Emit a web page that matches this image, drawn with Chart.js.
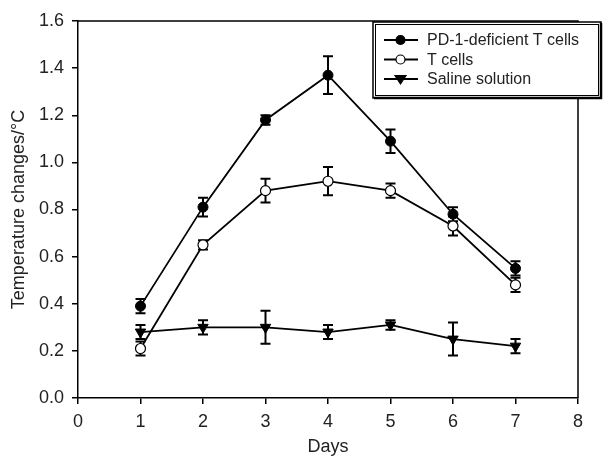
<!DOCTYPE html>
<html>
<head>
<meta charset="utf-8">
<script src="https://cdn.jsdelivr.net/npm/chart.js@4/dist/chart.umd.min.js"></script>
<style>
  body { margin: 0; background: #fff; }
  #tempChart { display: block; }
</style>
</head>
<body>
<canvas id="tempChart" width="610" height="458"></canvas>
<script>
const days = [1, 2, 3, 4, 5, 6, 7]
const seriesNames = ['PD-1-deficient T cells', 'T cells', 'Saline solution']
const pd1Values = [0.39, 0.81, 1.18, 1.37, 1.09, 0.78, 0.55]
const pd1Errors = [0.03, 0.04, 0.02, 0.08, 0.05, 0.03, 0.03]
const tcellValues = [0.21, 0.65, 0.88, 0.92, 0.88, 0.73, 0.48]
const tcellErrors = [0.03, 0.02, 0.05, 0.06, 0.03, 0.04, 0.03]
const salineValues = [0.28, 0.30, 0.30, 0.28, 0.31, 0.25, 0.22]
const salineErrors = [0.03, 0.03, 0.07, 0.03, 0.02, 0.07, 0.03]
const yTicks = [0.0, 0.2, 0.4, 0.6, 0.8, 1.0, 1.2, 1.4, 1.6]
const xTicks = [0, 1, 2, 3, 4, 5, 6, 7, 8]

const errorSets = [pd1Errors, tcellErrors, salineErrors]
const fontFamily = '"Liberation Sans", Arial, Helvetica, sans-serif'

function toPoints(values) {
    return values.map((v, i) => ({ x: days[i], y: v }))
}

// error bars drawn under the markers
const errorBars = {
    id: 'errorBars',
    beforeDatasetsDraw(chart) {
        const ctx = chart.ctx
        const xs = chart.scales.x
        const ys = chart.scales.y
        ctx.save()
        ctx.strokeStyle = '#000'
        ctx.lineWidth = 2
        chart.data.datasets.forEach((ds, d) => {
            ds.data.forEach((p, i) => {
                const err = errorSets[d][i]
                const px = xs.getPixelForValue(p.x)
                const top = ys.getPixelForValue(p.y + err)
                const bot = ys.getPixelForValue(p.y - err)
                ctx.beginPath()
                ctx.moveTo(px, top)
                ctx.lineTo(px, bot)
                ctx.moveTo(px - 5, top)
                ctx.lineTo(px + 5, top)
                ctx.moveTo(px - 5, bot)
                ctx.lineTo(px + 5, bot)
                ctx.stroke()
            })
        })
        ctx.restore()
    }
}

// frame round the plot and the boxed legend
const frameAndLegend = {
    id: 'frameAndLegend',
    afterDraw(chart) {
        const ctx = chart.ctx
        const a = chart.chartArea
        ctx.save()
        ctx.strokeStyle = '#000'
        ctx.lineWidth = 1.5
        ctx.beginPath()
        ctx.moveTo(a.left, a.top)
        ctx.lineTo(a.right, a.top)
        ctx.lineTo(a.right, a.bottom)
        ctx.stroke()

        const lx = a.right - 205
        const ly = a.top + 1
        const lw = 228
        const lh = 76
        ctx.fillStyle = '#fff'
        ctx.fillRect(lx, ly, lw, lh)
        ctx.lineWidth = 1.5
        ctx.strokeRect(lx, ly, lw, lh)
        ctx.lineWidth = 1
        ctx.strokeRect(lx + 2.5, ly + 2.5, lw - 5, lh - 5)
        ctx.lineWidth = 2.5
        ctx.beginPath()
        ctx.moveTo(lx + lw, ly + 1)
        ctx.lineTo(lx + lw, ly + lh)
        ctx.lineTo(lx + 1, ly + lh)
        ctx.stroke()

        ctx.font = '16px ' + fontFamily
        ctx.textBaseline = 'middle'
        ctx.fillStyle = '#222'
        chart.data.datasets.forEach((ds, d) => {
            const rowY = ly + 18 + d * 19.5
            ctx.strokeStyle = '#000'
            ctx.lineWidth = 2
            ctx.beginPath()
            ctx.moveTo(lx + 11, rowY)
            ctx.lineTo(lx + 45, rowY)
            ctx.stroke()
            ctx.lineWidth = 1.2
            ctx.fillStyle = ds.pointBackgroundColor
            ctx.strokeStyle = '#000'
            if (ds.pointStyle === 'triangle') {
                ctx.beginPath()
                ctx.moveTo(lx + 22, rowY - 3.5)
                ctx.lineTo(lx + 33, rowY - 3.5)
                ctx.lineTo(lx + 27.5, rowY + 5)
                ctx.closePath()
                ctx.fill()
                ctx.stroke()
            } else {
                ctx.beginPath()
                ctx.arc(lx + 27.5, rowY, 4.5, 0, Math.PI * 2)
                ctx.fill()
                ctx.stroke()
            }
            ctx.fillStyle = '#222'
            ctx.fillText(ds.label, lx + 54, rowY + 1)
        })
        ctx.restore()
    }
}

const ctx = document.getElementById('tempChart').getContext('2d')
new Chart(ctx, {
    type: 'line',
    data: {
        datasets: [
            {
                label: seriesNames[0],
                data: toPoints(pd1Values),
                borderColor: '#000',
                borderWidth: 1.8,
                pointStyle: 'circle',
                pointRadius: 5,
                pointBackgroundColor: '#000',
                pointBorderColor: '#000',
                pointBorderWidth: 1
            },
            {
                label: seriesNames[1],
                data: toPoints(tcellValues),
                borderColor: '#000',
                borderWidth: 1.8,
                pointStyle: 'circle',
                pointRadius: 5,
                pointBackgroundColor: '#fff',
                pointBorderColor: '#000',
                pointBorderWidth: 1.2
            },
            {
                label: seriesNames[2],
                data: toPoints(salineValues),
                borderColor: '#000',
                borderWidth: 1.8,
                pointStyle: 'triangle',
                pointRotation: 180,
                pointRadius: 6,
                pointBackgroundColor: '#000',
                pointBorderColor: '#000',
                pointBorderWidth: 1
            }
        ]
    },
    options: {
        responsive: false,
        animation: false,
        layout: { padding: { left: 0, right: 32, top: 21, bottom: 0 } },
        plugins: {
            legend: { display: false },
            tooltip: { enabled: false }
        },
        scales: {
            x: {
                type: 'linear',
                min: 0,
                max: 8,
                afterBuildTicks: axis => { axis.ticks = xTicks.map(v => ({ value: v })) },
                afterFit: axis => { axis.height = 60 },
                ticks: {
                    color: '#222',
                    padding: 7,
                    font: { family: fontFamily, size: 18 }
                },
                grid: { drawOnChartArea: false, drawTicks: true, tickLength: 6, color: '#000', lineWidth: 1.5 },
                border: { color: '#000', width: 1.5 },
                title: {
                    display: true,
                    text: 'Days',
                    color: '#222',
                    padding: { top: 0, bottom: 0 },
                    font: { family: fontFamily, size: 18 }
                }
            },
            y: {
                min: 0,
                max: 1.6,
                afterBuildTicks: axis => { axis.ticks = yTicks.map(v => ({ value: v })) },
                afterFit: axis => { axis.width = 78 },
                ticks: {
                    color: '#222',
                    padding: 8,
                    font: { family: fontFamily, size: 18 },
                    callback: v => v.toFixed(1)
                },
                grid: { drawOnChartArea: false, drawTicks: true, tickLength: 6, color: '#000', lineWidth: 1.5 },
                border: { color: '#000', width: 1.5 },
                title: {
                    display: true,
                    text: 'Temperature changes/\u00B0C',
                    color: '#222',
                    padding: { top: 8, bottom: 4 },
                    font: { family: fontFamily, size: 18 }
                }
            }
        }
    },
    plugins: [errorBars, frameAndLegend]
})
</script>
</body>
</html>
